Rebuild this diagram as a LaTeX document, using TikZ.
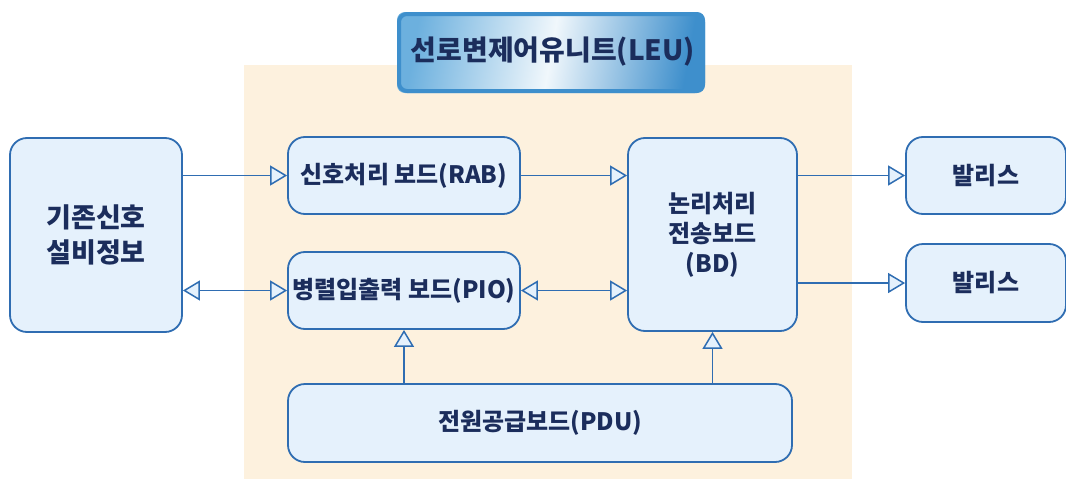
\documentclass[tikz,border=0pt]{standalone}
\usepackage{fontspec}
\setmainfont{Noto Sans CJK KR}
\usetikzlibrary{arrows.meta}

\definecolor{lineblue}{HTML}{2F6DB2}
\definecolor{boxfill}{HTML}{E5F1FC}
\definecolor{textnavy}{HTML}{1B2D5C}
\definecolor{unitbg}{HTML}{FDF1DE}
\definecolor{titleedge}{HTML}{3E8FCC}
\definecolor{titledark}{HTML}{6CB0DE}

\tikzset{
  board/.style={draw=lineblue, line width=1.8pt, fill=boxfill, rounded corners=17pt,
    text=textnavy, font=\fontsize{24}{30}\selectfont\bfseries, align=center, inner sep=0pt},
  tip/.tip={Triangle[length=17pt, width=20pt, fill=boxfill, line width=1.5pt]},
  link/.style={draw=lineblue, line width=1.8pt, -tip},
  duplex/.style={draw=lineblue, line width=1.8pt, tip-tip}
}

\begin{document}
\begin{tikzpicture}[x=1pt, y=-1pt]
  \useasboundingbox (0,0) rectangle (1066,479);

  % LEU area
  \fill[unitbg] (244,65) rectangle (852,479);

  % title
  \shade[rounded corners=8pt, left color=titledark, right color=titleedge, middle color=white!90!titledark,
    shading angle=80] (397,12) rectangle (705,93);
  \draw[titleedge, line width=4pt, rounded corners=8pt] (399,14) rectangle (703,91);
  \node (title) at (553,52) [text=textnavy, font=\fontsize{28}{30}\selectfont\bfseries] {선로변제어유니트(LEU)};

  % boards
  \node[board, minimum width=172pt, minimum height=194pt, font=\fontsize{27}{35}\selectfont\bfseries]
    (info) at (96,235) {기존신호\\설비정보};
  \node[board, minimum width=232pt, minimum height=77pt] (rab) at (404,175.5) {신호처리 보드(RAB)};
  \node[board, minimum width=232pt, minimum height=77pt] (pio) at (404,290.5) {병렬입출력 보드(PIO)};
  \node[board, minimum width=169pt, minimum height=193pt] (bd) at (712.5,234.5)
    {논리처리\\전송보드\\(BD)};
  \node[board, minimum width=504pt, minimum height=78pt] (pdu) at (540,423) {전원공급보드(PDU)};
  \node[board, minimum width=160pt, minimum height=77pt] (bal1) at (986,175.5) {발리스};
  \node[board, minimum width=160pt, minimum height=78pt] (bal2) at (986,283) {발리스};

  % connections
  \draw[link] (info.east |- rab.west) -- (rab.west);
  \draw[duplex] (info.east |- pio.west) -- (pio.west);
  \draw[link] (rab.east) -- (bd.west |- rab.east);
  \draw[duplex] (pio.east) -- (bd.west |- pio.east);
  \draw[link] (bd.east |- bal1.west) -- (bal1.west);
  \draw[link] (bd.east |- bal2.west) -- (bal2.west);
  \draw[link] (pdu.north -| pio.south) -- (pio.south);
  \draw[link] (pdu.north -| bd.south) -- (bd.south);
\end{tikzpicture}
\end{document}
